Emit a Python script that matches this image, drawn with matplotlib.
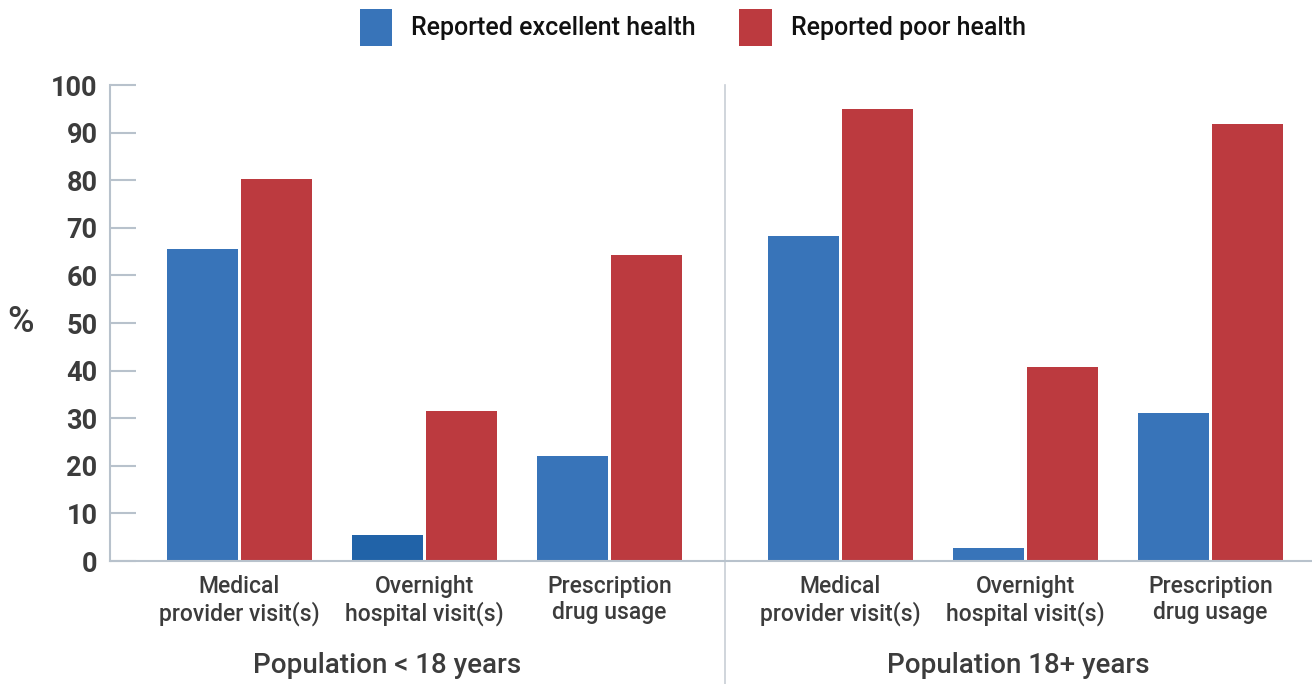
import matplotlib
matplotlib.use("Agg")
import matplotlib.pyplot as plt
import numpy as np

# data
categories = ["Medical\nprovider visit(s)", "Overnight\nhospital visit(s)", "Prescription\ndrug usage"] * 2
groups = ["Population < 18 years", "Population 18+ years"]
excellent = [65.5, 5.5, 22.1, 68.3, 2.7, 31.1]
poor = [80.3, 31.5, 64.3, 95.0, 40.8, 91.8]
yticks = list(range(0, 101, 10))

blue = "#3874b9"
blue_dark = "#2163a8"
red = "#bc3a3f"
txt = "#3c3c3c"
axcol = "#b8c2cc"

plt.rcParams['font.family'] = ['Roboto', 'DejaVu Sans']

fig = plt.figure(figsize=(13.12, 6.84), dpi=100)
ax = fig.add_axes([110 / 1312, 123 / 684, 1 - 110 / 1312, 476 / 684])

x = np.array([0, 1, 2, 3.25, 4.25, 5.25])
w = 0.384
bcols = [blue, blue_dark, blue, blue, blue, blue]
b1 = ax.bar(x - 0.2, excellent, w, color=bcols, label="Reported excellent health")
b2 = ax.bar(x + 0.2, poor, w, color=red, label="Reported poor health")
b1.patches[0].set_facecolor(blue)

ax.set_xlim(-0.7, 5.8)
ax.set_ylim(0, 100)
ax.set_yticks(yticks)
ax.set_yticklabels([str(t) for t in yticks], fontsize=19.5, fontweight="bold", color=txt)
ax.set_xticks(x)
ax.set_xticklabels(categories, fontsize=16.5, fontweight="medium", color=txt, linespacing=1.2)
ax.tick_params(axis="y", direction="in", length=19, width=1.5, color=axcol, pad=9)
ax.tick_params(axis="x", length=0, pad=10)

for s in ["top", "right"]:
    ax.spines[s].set_visible(False)
for s in ["left", "bottom"]:
    ax.spines[s].set_color(axcol)
    ax.spines[s].set_linewidth(1.5)

ax.set_ylabel("%", rotation=0, fontsize=26, fontweight="medium", color=txt, labelpad=22, va="center")

# divider between the two populations
ax.axvline(2.625, ymin=-0.26, ymax=1.0, color="#c8ced6", lw=1.2, clip_on=False)

# group labels
for gx, g in zip([0.8, 4.21], groups):
    ax.text(gx, -0.22, g, transform=ax.get_xaxis_transform(), ha="center", va="center",
            fontsize=20, fontweight="medium", color=txt)

fig.legend(handles=[b1, b2], loc="upper center", bbox_to_anchor=(0.528, 1.02), ncol=2,
           frameon=False, handlelength=1.3, handleheight=1.9,
           handletextpad=0.75, columnspacing=1.75,
           prop={"size": 18, "weight": "medium"}, labelcolor="#111111")

fig.savefig("out.png", dpi=100)
